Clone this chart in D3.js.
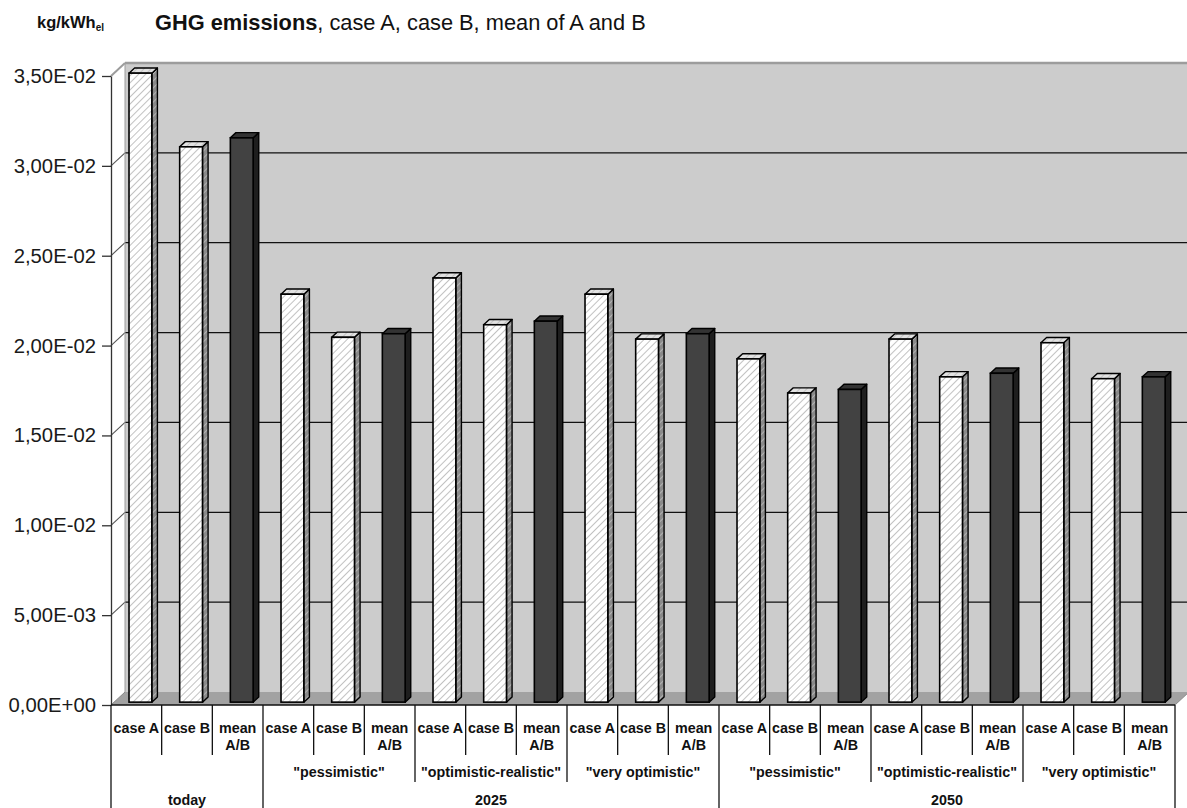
<!DOCTYPE html>
<html>
<head>
<meta charset="utf-8">
<script src="https://cdn.jsdelivr.net/npm/d3@7"></script>
<style>
  html, body { margin: 0; padding: 0; background: #fff; }
  svg { display: block; font-family: "Liberation Sans", Arial, sans-serif; }
</style>
</head>
<body>
<svg id="chart" width="1187" height="808"></svg>
<script>
// ---- data ----
const barLabels = ["case A", "case B", "mean A/B"];
const groupPeriods = ["today", "2025", "2025", "2025", "2050", "2050", "2050"];
const groupScenarios = ["", "\"pessimistic\"", "\"optimistic-realistic\"", "\"very optimistic\"",
                        "\"pessimistic\"", "\"optimistic-realistic\"", "\"very optimistic\""];
const caseA  = [0.0350, 0.0227, 0.0236, 0.0227, 0.0191, 0.0202, 0.0200];
const caseB  = [0.0309, 0.0203, 0.0210, 0.0202, 0.0172, 0.0181, 0.0180];
const meanAB = [0.0314, 0.0205, 0.0212, 0.0205, 0.0174, 0.0183, 0.0181];
const yTicks = [0, 0.005, 0.010, 0.015, 0.020, 0.025, 0.030, 0.035];
const yTickLabels = ["0,00E+00", "5,00E-03", "1,00E-02", "1,50E-02", "2,00E-02", "2,50E-02", "3,00E-02", "3,50E-02"];

// flatten into one row per bar
const bars = [];
groupPeriods.forEach((p, g) => {
  [caseA[g], caseB[g], meanAB[g]].forEach((v, k) => {
    bars.push({ idx: bars.length, group: g, kind: k, label: barLabels[k], value: v });
  });
});

// ---- layout ----
const svg = d3.select("#chart");
const left = 111, right = 1175;
const DX = 14, DY = -13;          // depth of the 3D box (front -> back)
const Z0 = 0.22, ZD = 0.40;       // bar front position and bar depth

const x = d3.scaleBand().domain(d3.range(bars.length)).range([left, right]).paddingInner(0).paddingOuter(0);
const y = d3.scaleLinear().domain([0, 0.035]).range([705, 76]);
const y0 = y(0);
const yTop = y(0.035);

// patterns for hatched bars
const defs = svg.append("defs");
function hatch(id, bg, line, lw) {
  const p = defs.append("pattern").attr("id", id).attr("patternUnits", "userSpaceOnUse")
    .attr("width", 5).attr("height", 5).attr("patternTransform", "rotate(45)");
  p.append("rect").attr("width", 5).attr("height", 5).attr("fill", bg);
  p.append("line").attr("x1", 0).attr("y1", 0).attr("x2", 0).attr("y2", 5)
    .attr("stroke", line).attr("stroke-width", lw);
}
hatch("hFront", "#ffffff", "#a8a8a8", 1.4);
hatch("hSide", "#8a8a8a", "#cfcfcf", 1.2);
hatch("hTop", "#e2e2e2", "#b0b0b0", 1.2);

const pts = a => a.map(p => p.join(",")).join(" ");

// side wall
svg.append("polygon")
  .attr("points", pts([[left, yTop], [left + DX, yTop + DY], [left + DX, y0 + DY], [left, y0]]))
  .attr("fill", "#ffffff");
// back wall
svg.append("rect")
  .attr("x", left + DX).attr("y", yTop + DY)
  .attr("width", 1200 - left - DX).attr("height", y0 - yTop)
  .attr("fill", "#cccccc");
// floor
svg.append("polygon")
  .attr("points", pts([[left, y0], [right, y0], [right + DX, y0 + DY], [left + DX, y0 + DY]]))
  .attr("fill", "#a2a2a2");

// gridlines on back wall and side wall
const grid = svg.append("g");
yTicks.filter(t => t > 0 && t < 0.035).forEach(t => {
  grid.append("line").attr("x1", left + DX).attr("x2", 1200)
    .attr("y1", y(t) + DY).attr("y2", y(t) + DY)
    .attr("stroke", "#111").attr("stroke-width", 1.3);
  grid.append("line").attr("x1", left).attr("x2", left + DX)
    .attr("y1", y(t)).attr("y2", y(t) + DY)
    .attr("stroke", "#555").attr("stroke-width", 1.1);
});
// wall edges
grid.append("line").attr("x1", left + DX).attr("x2", 1200)
  .attr("y1", yTop + DY).attr("y2", yTop + DY)
  .attr("stroke", "#9c9c9c").attr("stroke-width", 2.5);
grid.append("line").attr("x1", left).attr("x2", left + DX)
  .attr("y1", yTop).attr("y2", yTop + DY)
  .attr("stroke", "#9c9c9c").attr("stroke-width", 2);
grid.append("line").attr("x1", left + DX).attr("x2", left + DX)
  .attr("y1", yTop + DY).attr("y2", y0 + DY)
  .attr("stroke", "#9c9c9c").attr("stroke-width", 1);
grid.append("line").attr("x1", left).attr("x2", left + DX)
  .attr("y1", y0).attr("y2", y0 + DY)
  .attr("stroke", "#888").attr("stroke-width", 1);
grid.append("line").attr("x1", right).attr("x2", right + DX)
  .attr("y1", y0).attr("y2", y0 + DY)
  .attr("stroke", "#888").attr("stroke-width", 1);

// ---- bars ----
const bw = x.bandwidth() * 0.45;
const fx = Z0 * DX, fy = Z0 * DY, sx = ZD * DX, sy = ZD * DY;
const barG = svg.append("g").selectAll("g").data(bars).join("g");
barG.each(function (d) {
  const g = d3.select(this);
  const cx = x(d.idx) + x.bandwidth() / 2 + 1;
  const x0 = cx - bw / 2 + fx, x1 = cx + bw / 2 + fx;
  const yv = y(d.value) + fy, yb = y0 + fy;
  const dark = d.kind === 2;
  // side face
  g.append("polygon")
    .attr("points", pts([[x1, yv], [x1 + sx, yv + sy], [x1 + sx, yb + sy], [x1, yb]]))
    .attr("fill", dark ? "#1e1e1e" : "url(#hSide)")
    .attr("stroke", "#000").attr("stroke-width", 1.4).attr("stroke-linejoin", "round");
  // top face
  g.append("polygon")
    .attr("points", pts([[x0, yv], [x1, yv], [x1 + sx, yv + sy], [x0 + sx, yv + sy]]))
    .attr("fill", dark ? "#333333" : "url(#hTop)")
    .attr("stroke", "#000").attr("stroke-width", 1.4).attr("stroke-linejoin", "round");
  // front face
  g.append("rect")
    .attr("x", x0).attr("y", yv).attr("width", x1 - x0).attr("height", yb - yv)
    .attr("fill", dark ? "#424242" : "url(#hFront)")
    .attr("stroke", "#000").attr("stroke-width", 1.6);
});

// ---- y axis ----
const yAxis = d3.axisLeft(y).tickValues(yTicks)
  .tickFormat((d, i) => yTickLabels[i]).tickSize(9).tickSizeOuter(0).tickPadding(6);
const ya = svg.append("g").attr("transform", `translate(${left},0)`).call(yAxis);
ya.select(".domain").attr("stroke", "#333").attr("stroke-width", 1.3);
ya.selectAll(".tick line").attr("stroke", "#333").attr("stroke-width", 1.3);
ya.selectAll(".tick text").attr("font-size", 20.3).attr("fill", "#1a1a1a")
  .attr("font-family", "'Liberation Sans', Arial, sans-serif");

// ---- category table under the axis ----
const tbl = svg.append("g");
const bottom = 808;
tbl.append("line").attr("x1", left).attr("x2", right).attr("y1", y0).attr("y2", y0)
  .attr("stroke", "#111").attr("stroke-width", 1.5);

// vertical dividers: between bars, between scenarios, between periods
for (let i = 0; i <= bars.length; i++) {
  const xi = i === bars.length ? right : x(i);
  let yEnd;
  if (i === 0 || i === bars.length || i === 3 || i === 12) yEnd = bottom;
  else if (i % 3 === 0) yEnd = 782;
  else yEnd = 755;
  tbl.append("line").attr("x1", xi).attr("x2", xi).attr("y1", y0).attr("y2", yEnd)
    .attr("stroke", "#111").attr("stroke-width", 1.3);
}

const lblSize = 14.3;
// bar labels
bars.forEach(d => {
  const cx = x(d.idx) + x.bandwidth() / 2;
  const t = tbl.append("text").attr("text-anchor", "middle").attr("font-size", lblSize)
    .attr("font-weight", "bold").attr("fill", "#111");
  const parts = d.label.split(" ");
  if (d.kind === 2) {
    t.append("tspan").attr("x", cx).attr("y", 733).text(parts[0]);
    t.append("tspan").attr("x", cx).attr("y", 750).text(parts[1]);
  } else {
    t.attr("x", cx).attr("y", 733).text(d.label);
  }
});

// scenario labels
groupScenarios.forEach((s, g) => {
  if (!s) return;
  const cx = x(g * 3) + x.bandwidth() * 1.5;
  tbl.append("text").attr("x", cx).attr("y", 777).attr("text-anchor", "middle")
    .attr("font-size", lblSize).attr("font-weight", "bold").attr("fill", "#111").text(s);
});

// period labels
const periods = Array.from(new Set(groupPeriods));
periods.forEach(p => {
  const gs = groupPeriods.map((q, i) => q === p ? i : -1).filter(i => i >= 0);
  const xa = x(gs[0] * 3), xb = x(gs[gs.length - 1] * 3 + 2) + x.bandwidth();
  tbl.append("text").attr("x", (xa + xb) / 2).attr("y", 805).attr("text-anchor", "middle")
    .attr("font-size", lblSize).attr("font-weight", "bold").attr("fill", "#111").text(p);
});

// ---- titles ----
const unit = svg.append("text").attr("x", 37).attr("y", 28).attr("font-size", 16.5)
  .attr("font-weight", "bold").attr("fill", "#111");
unit.append("tspan").text("kg/kWh");
unit.append("tspan").attr("font-size", 10).attr("dy", 3).text("el");

const title = svg.append("text").attr("x", 155).attr("y", 30).attr("font-size", 21.8).attr("fill", "#111");
title.append("tspan").attr("font-weight", "bold").text("GHG emissions");
title.append("tspan").text(", case A, case B, mean of A and B");
</script>
</body>
</html>
